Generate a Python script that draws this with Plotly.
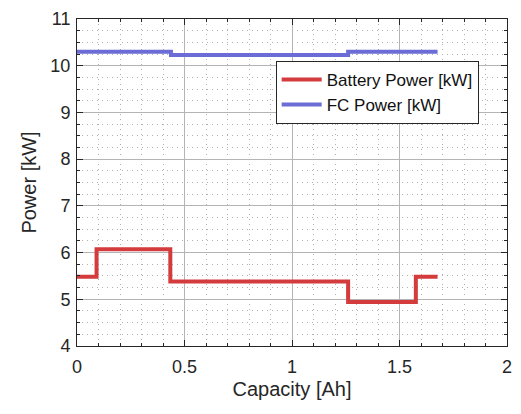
import plotly.graph_objects as go

# Capacity breakpoints [Ah] and power levels [kW] (step profiles)
batt_capacity = [0, 0.091, 0.434, 1.261, 1.576, 1.677]
batt_power = [5.48, 6.07, 5.38, 4.94, 5.48, 5.48]

fc_capacity = [0, 0.437, 1.261, 1.677]
fc_power = [10.30, 10.23, 10.30, 10.30]

x_ticks = [0, 0.5, 1, 1.5, 2]
x_tick_text = ["0", "0.5", "1", "1.5", "2"]
y_ticks = [4, 5, 6, 7, 8, 9, 10, 11]

RED = "#d43b3d"
BLUE = "#6c6cd6"
FONT = "Liberation Sans, Arial, sans-serif"
INK = "#262626"

fig = go.Figure()
fig.add_trace(go.Scatter(
    x=batt_capacity, y=batt_power, mode="lines", line_shape="hv",
    line=dict(color=RED, width=4), name="Battery Power [kW]",
))
fig.add_trace(go.Scatter(
    x=fc_capacity, y=fc_power, mode="lines", line_shape="hv",
    line=dict(color=BLUE, width=4), name="FC Power [kW]",
))

axis_common = dict(
    showline=True, linecolor=INK, linewidth=1, mirror="allticks",
    ticks="inside", ticklen=6, tickcolor=INK,
    showgrid=True, gridcolor="#b4b4b4", gridwidth=1,
    zeroline=False,
    tickfont=dict(family=FONT, size=18, color=INK),
)
minor_common = dict(showgrid=True, griddash="1px,4px", gridcolor="#b0b0b0",
                    ticks="inside", ticklen=3, tickcolor=INK)

fig.update_xaxes(
    range=[0, 2], tickvals=x_ticks, ticktext=x_tick_text,
    ticklabelstandoff=4,
    title=dict(text="Capacity [Ah]", font=dict(family=FONT, size=20, color=INK), standoff=6),
    minor=dict(dtick=0.1, **minor_common),
    **axis_common,
)
fig.update_yaxes(
    range=[4, 11], tickvals=y_ticks,
    ticklabelstandoff=2,
    title=dict(text="Power [kW]", font=dict(family=FONT, size=20, color=INK), standoff=8),
    minor=dict(dtick=0.25, **minor_common),
    **axis_common,
)

fig.update_layout(
    width=521, height=414,
    margin=dict(l=77, r=11, t=9, b=68),
    paper_bgcolor="white", plot_bgcolor="white",
    showlegend=True,
    legend=dict(
        x=0.462, y=0.872, xanchor="left", yanchor="top",
        bgcolor="white", bordercolor=INK, borderwidth=1,
        font=dict(family=FONT, size=17, color="#111111"),
        tracegroupgap=0, itemwidth=40,
    ),
)

fig.write_html("out.html")
